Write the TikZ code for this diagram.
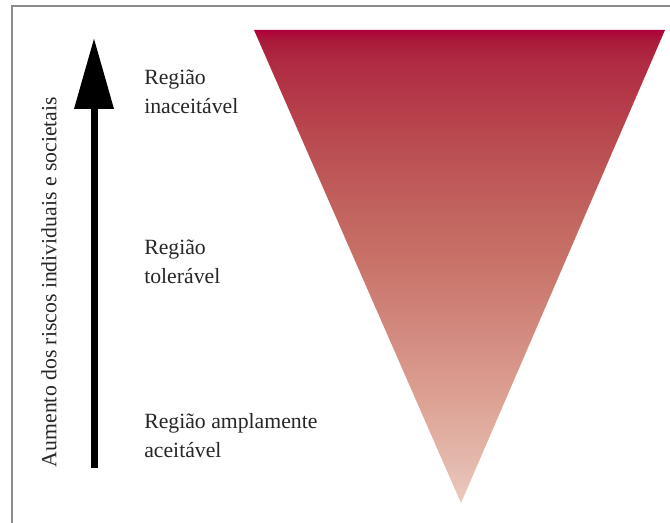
\documentclass[tikz,border=0pt]{standalone}
\usepackage{fontspec}
\setmainfont{Liberation Serif}
\usetikzlibrary{arrows.meta}

% colour ramp of the risk triangle, light at the apex, dark at the top
\definecolor{rampA}{HTML}{EBCABF}
\definecolor{rampB}{HTML}{E4B8AC}
\definecolor{rampC}{HTML}{DCA092}
\definecolor{rampD}{HTML}{D2887E}
\definecolor{rampE}{HTML}{C87268}
\definecolor{rampF}{HTML}{C05E5C}
\definecolor{rampG}{HTML}{B8464E}
\definecolor{rampH}{HTML}{B02A42}
\definecolor{rampI}{HTML}{A81A3A}
\definecolor{rampJ}{HTML}{B0003A}
\definecolor{framegray}{HTML}{8C8C8C}

\pgfdeclareverticalshading{riskfade}{100bp}{%
  color(0bp)=(rampA); color(25bp)=(rampA); color(29.4bp)=(rampB);
  color(36.4bp)=(rampC); color(43.5bp)=(rampD); color(50.6bp)=(rampE);
  color(57.6bp)=(rampF); color(64.6bp)=(rampG); color(71.7bp)=(rampH);
  color(73.9bp)=(rampI); color(75bp)=(rampJ); color(100bp)=(rampJ)}

\tikzset{
  label/.style={anchor=north west, inner sep=0pt, align=left,
    font=\rmfamily\fontsize{16.3pt}{21.5pt}\selectfont, text=black!85},
  axislabel/.style={rotate=90, inner sep=0pt,
    font=\rmfamily\fontsize{16.3pt}{20pt}\selectfont, text=black!85},
  riskarrow/.style={line width=5.25pt,
    -{Triangle[length=53.25pt,width=28.5pt]}},
  framelines/.style={framegray, line width=1.5pt}
}

\begin{document}
\begin{tikzpicture}[x=0.75pt, y=-0.75pt]
  \useasboundingbox (0,0) rectangle (670,523);

  % partial frame along the left and top edges
  \coordinate (fbl) at (12,523);
  \coordinate (ftl) at (12,6);
  \coordinate (ftr) at (670,6);
  \draw[framelines] (fbl) -- (ftl) -- (ftr);

  % inverted risk triangle
  \coordinate (tl) at (254,30);
  \coordinate (tr) at (665,30);
  \coordinate (apex) at (461,503);
  \shade[shading=riskfade] (tl) -- (tr) -- (apex) -- cycle;

  % upward arrow of increasing risk
  \coordinate (abase) at (94,468);
  \coordinate (atip) at (94,38);
  \draw[riskarrow] (abase) -- (atip);

  % axis caption
  \node[axislabel] (axis) at (49,282) {Aumento dos riscos individuais e societais};

  % region labels
  \node[label] (unacc) at (144,70) {Região\\inaceitável};
  \node[label] (toler) at (144,240) {Região\\tolerável};
  \node[label] (broad) at (144,413) {Região amplamente\\aceitável};
\end{tikzpicture}
\end{document}
